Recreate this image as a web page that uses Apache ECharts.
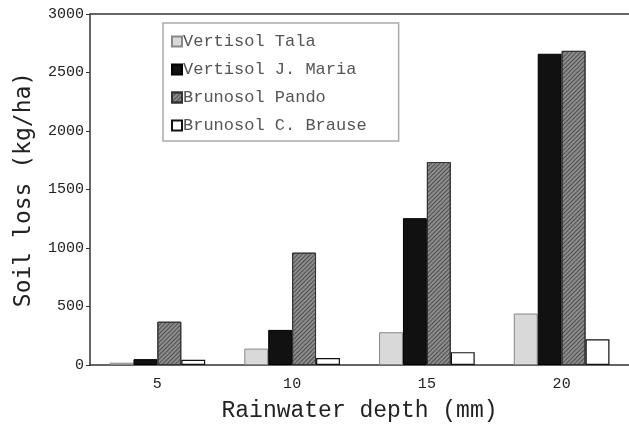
<!DOCTYPE html>
<html><head><meta charset="utf-8">
<script src="https://cdn.jsdelivr.net/npm/echarts@6/dist/echarts.min.js"></script>
<style>html,body{margin:0;padding:0;background:#fff}#c{width:629px;height:424px}</style>
</head><body><div id="c"></div>
<script>
const categories = ['5', '10', '15', '20'];
const seriesNames = ['Vertisol Tala', 'Vertisol J. Maria', 'Brunosol Pando', 'Brunosol C. Brause'];
const vertisolTala = [20, 140, 280, 440];
const vertisolJMaria = [50, 300, 1255, 2660];
const brunosolPando = [370, 960, 1735, 2685];
const brunosolCBrause = [45, 60, 110, 220];
const yTicks = [0, 500, 1000, 1500, 2000, 2500, 3000];

const mono = 'Liberation Mono';
const chart = echarts.init(document.getElementById('c'), null, {renderer: 'canvas'});
const styles = [
  {color: '#d9d9d9', borderColor: '#888', borderWidth: 1},
  {color: '#111', borderColor: '#000', borderWidth: 1},
  {color: '#8c8c8c', borderColor: '#333', borderWidth: 1,
   decal: {symbol: 'rect', symbolSize: 1, dashArrayX: [1, 0], dashArrayY: [1, 2], rotation: -Math.PI / 4, color: 'rgba(30,30,30,0.55)'}},
  {color: '#fff', borderColor: '#111', borderWidth: 1.2}
];
const data = [vertisolTala, vertisolJMaria, brunosolPando, brunosolCBrause];
chart.setOption({
  animation: false,
  backgroundColor: '#fff',
  grid: {left: 90, right: 0, top: 14, bottom: 59, containLabel: false, outerBoundsMode: 'none'},
  legend: {
    orient: 'vertical', left: 163, top: 23,
    padding: [10, 32, 7, 8],
    itemGap: 11, itemWidth: 10, itemHeight: 10,
    borderColor: '#aaa', borderWidth: 1.5,
    icon: 'rect',
    textStyle: {fontFamily: mono, fontSize: 17, color: '#555', padding: [0, 0, 0, -4]},
    data: seriesNames
  },
  xAxis: {
    type: 'category', data: categories,
    axisLine: {lineStyle: {color: '#333', width: 1.5}},
    axisTick: {show: false},
    axisLabel: {fontFamily: mono, fontSize: 15, color: '#222', margin: 12},
    name: 'Rainwater depth (mm)', nameLocation: 'middle', nameGap: 34,
    nameTextStyle: {fontFamily: mono, fontSize: 23, color: '#222'}
  },
  yAxis: {
    type: 'value', min: 0, max: 3000, interval: 500,
    axisLine: {show: true, lineStyle: {color: '#333', width: 1.5}},
    axisTick: {show: true, length: 4, lineStyle: {color: '#333'}},
    splitLine: {show: false},
    axisLabel: {fontFamily: mono, fontSize: 15, color: '#222', margin: 6,
      formatter: v => yTicks.includes(v) ? String(v) : ''},
    name: 'Soil loss (kg/ha)', nameLocation: 'middle', nameGap: 54, nameRotate: 90,
    nameTextStyle: {fontFamily: 'DejaVu Sans Mono', fontSize: 23, color: '#222'}
  },
  series: seriesNames.map((n, i) => ({
    name: n, type: 'bar', data: data[i],
    barGap: '0%', barCategoryGap: '29%',
    itemStyle: styles[i]
  }))
});
chart.setOption({graphic: [{type: 'line', shape: {x1: 90, y1: 14, x2: 629, y2: 14}, style: {stroke: '#333', lineWidth: 1.5}}]});
</script></body></html>
